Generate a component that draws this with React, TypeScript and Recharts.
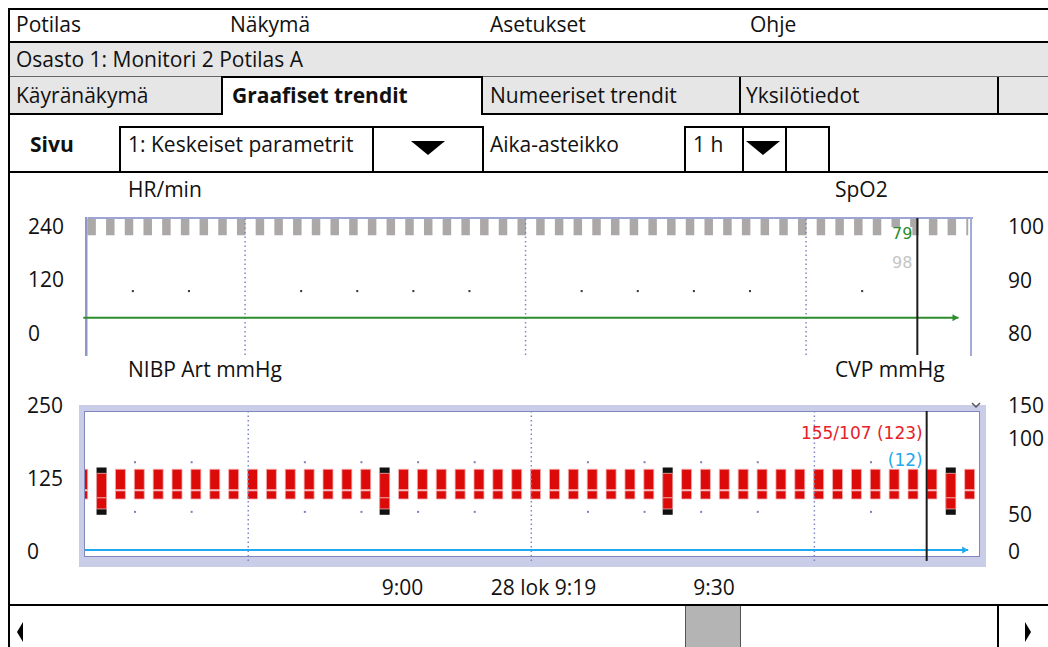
import React from 'react';
import { Bar, ComposedChart, Line, ReferenceLine, Scatter, XAxis, YAxis } from 'recharts';

const uiFont = "'Open Sans', 'Noto Sans', sans-serif";
const valueFont = "'DejaVu Sans', Verdana, sans-serif";

// shared time axis (trend slots, 1 h window)
const timeDomain: [number, number] = [0.1, 47.42];
const gridTimes = [8.75, 23.75, 38.75];
const markTimes = [2.75, 5.75, 11.75, 14.75, 17.75, 20.75, 26.75, 29.75, 32.75, 35.75, 41.75];
const cursorTime = 44.7;
const timeTicks = [16.93, 24.4, 33.43];
const timeLabels = ['9:00', '28 lok 9:19', '9:30'];

// HR / SpO2 panel
const hrTicks = [0, 120, 240];
const spo2Ticks = [80, 90, 100];
const spo2Times = [
  0.55, 1.55, 2.55, 3.55, 4.55, 5.55, 6.55, 7.55, 8.55, 9.55, 10.55, 11.55, 12.55, 13.55, 14.55, 15.55,
  16.55, 17.55, 18.55, 19.55, 20.55, 21.55, 22.55, 23.55, 24.55, 25.55, 26.55, 27.55, 28.55, 29.55, 30.55, 31.55,
  32.55, 33.55, 34.55, 35.55, 36.55, 37.55, 38.55, 39.55, 40.55, 41.55, 42.55, 43.55, 44.55, 45.55, 46.55, 47.55
];
const spo2High = [
  101.3, 101.3, 101.3, 101.3, 101.3, 101.3, 101.3, 101.3, 101.3, 101.3, 101.3, 101.3, 101.3, 101.3, 101.3, 101.3,
  101.3, 101.3, 101.3, 101.3, 101.3, 101.3, 101.3, 101.3, 101.3, 101.3, 101.3, 101.3, 101.3, 101.3, 101.3, 101.3,
  101.3, 101.3, 101.3, 101.3, 101.3, 101.3, 101.3, 101.3, 101.3, 101.3, 101.3, 101.3, 101.3, 101.3, 101.3, 101.3
];
const spo2Low = [
  98.3, 98.3, 98.3, 98.3, 98.3, 98.3, 98.3, 98.3, 98.3, 98.3, 98.3, 98.3, 98.3, 98.3, 98.3, 98.3,
  98.3, 98.3, 98.3, 98.3, 98.3, 98.3, 98.3, 98.3, 98.3, 98.3, 98.3, 98.3, 98.3, 98.3, 98.3, 98.3,
  98.3, 98.3, 98.3, 98.3, 98.3, 98.3, 98.3, 98.3, 98.3, 98.3, 98.3, 98.3, 98.3, 98.3, 98.3, 98.3
];
const hrMarkValues = [94, 94, 94, 94, 94, 94, 94, 94, 94, 94, 94];
const hrLineTimes = [0, 46.9];
const hrLineValues = [34, 34];
const hrReadout = '79';
const spo2Readout = '98';

// NIBP / CVP panel
const mmhgTicks = [0, 125, 250];
const cvpTickValues = [0, 38, 116, 150];
const cvpTickLabels = ['0', '50', '100', '150'];
const slotTimes = [
  0, 1, 2, 3, 4, 5, 6, 7, 8, 9, 10, 11, 12, 13, 14, 15,
  16, 17, 18, 19, 20, 21, 22, 23, 24, 25, 26, 27, 28, 29, 30, 31,
  32, 33, 34, 35, 36, 37, 38, 39, 40, 41, 42, 43, 44, 45, 46, 47
];
const nibpSys = [
  140, 133, 140, 140, 140, 140, 140, 140, 140, 140, 140, 140, 140, 140, 140, 140,
  133, 140, 140, 140, 140, 140, 140, 140, 140, 140, 140, 140, 140, 140, 140, 133,
  140, 140, 140, 140, 140, 140, 140, 140, 140, 140, 140, 140, 140, 140, 133, 140
];
const nibpMapHigh = [
  105, 91, 105, 105, 105, 105, 105, 105, 105, 105, 105, 105, 105, 105, 105, 105,
  91, 105, 105, 105, 105, 105, 105, 105, 105, 105, 105, 105, 105, 105, 105, 91,
  105, 105, 105, 105, 105, 105, 105, 105, 105, 105, 105, 105, 105, 105, 91, 105
];
const nibpMapLow = [
  103, 91, 103, 103, 103, 103, 103, 103, 103, 103, 103, 103, 103, 103, 103, 103,
  91, 103, 103, 103, 103, 103, 103, 103, 103, 103, 103, 103, 103, 103, 103, 91,
  103, 103, 103, 103, 103, 103, 103, 103, 103, 103, 103, 103, 103, 103, 91, 103
];
const nibpDia = [
  89, 72, 89, 89, 89, 89, 89, 89, 89, 89, 89, 89, 89, 89, 89, 89,
  72, 89, 89, 89, 89, 89, 89, 89, 89, 89, 89, 89, 89, 89, 89, 72,
  89, 89, 89, 89, 89, 89, 89, 89, 89, 89, 89, 89, 89, 89, 72, 89
];
const artTimes = [1, 16, 31, 46];
const artHigh = [143, 143, 143, 143];
const artLow = [62, 62, 62, 62];
const markHigh = [152, 152, 152, 152, 152, 152, 152, 152, 152, 152, 152];
const markLow = [67, 67, 67, 67, 67, 67, 67, 67, 67, 67, 67];
const cvpLineTimes = [0, 46.9];
const cvpLineValues = [1, 1];
const nibpReadout = '155/107 (123)';
const cvpReadout = '(12)';

const spo2Rows = spo2Times.map((t, i) => ({ t, spo2: [spo2Low[i], spo2High[i]] }));
const hrMarkRows = markTimes.map((t, i) => ({ t, v: hrMarkValues[i] }));
const hrLineRows = hrLineTimes.map((t, i) => ({ t, v: hrLineValues[i] }));

const nibpRows = slotTimes.map((t, i) => {
  const a = artTimes.indexOf(t);
  return {
    t,
    upper: [nibpMapHigh[i], nibpSys[i]],
    lower: [nibpDia[i], nibpMapLow[i]],
    art: a >= 0 ? [artLow[a], artHigh[a]] : null
  };
});
const nibpMarkRows = markTimes
  .map((t, i) => ({ t, v: markHigh[i] }))
  .concat(markTimes.map((t, i) => ({ t, v: markLow[i] })));
const cvpRows = cvpLineTimes.map((t, i) => ({ t, v: cvpLineValues[i] }));

const box = (left: number, top: number, width: number, height: number, extra: React.CSSProperties = {}): React.CSSProperties => ({
  position: 'absolute', left, top, width, height, boxSizing: 'border-box', ...extra
});

function Txt({ x, cy, size = 21, bold = false, children }: { x: number; cy: number; size?: number; bold?: boolean; children: React.ReactNode }) {
  return (
    <div style={{ position: 'absolute', left: x, top: cy - size * 0.7, lineHeight: `${size * 1.4}px`, fontSize: size, fontWeight: bold ? 700 : 400, whiteSpace: 'nowrap', color: '#111' }}>
      {children}
    </div>
  );
}

function DownArrow({ cx, top }: { cx: number; top: number }) {
  return (
    <svg style={box(cx - 18, top, 36, 16)} width={36} height={16}>
      <polygon points="1,1 35,1 18,15" fill="#000" />
    </svg>
  );
}

const axisTick = (x0: number, labelOf?: (v: number) => string) => (p: any) => (
  <text x={x0} y={p.y} textAnchor="start" dominantBaseline="central" fontSize={21} fontFamily={uiFont} fill="#111">
    {labelOf ? labelOf(p.payload.value) : p.payload.value}
  </text>
);

const arrowDot = (color: string, last: number) => (p: any) => {
  if (p.index !== last) return <g key={p.index} />;
  return <path key={p.index} d={`M${p.cx - 6},${p.cy - 3.5} L${p.cx},${p.cy} L${p.cx - 6},${p.cy + 3.5} Z`} fill={color} />;
};

const markShape = (color: string) => (p: any) => <rect x={p.cx - 1} y={p.cy - 1} width={2} height={2} fill={color} />;

function VitalsPanel() {
  return (
    <ComposedChart width={1048} height={183} data={spo2Rows} margin={{ top: 46, right: 0, bottom: 0, left: 0 }}>
      <XAxis xAxisId="t" dataKey="t" type="number" domain={timeDomain} allowDataOverflow hide />
      <XAxis xAxisId="m" dataKey="t" type="number" domain={timeDomain} allowDataOverflow hide />
      <YAxis yAxisId="hr" domain={[-49.3, 257.9]} ticks={hrTicks} width={83.3} allowDataOverflow axisLine={false} tickLine={false} tick={axisTick(28)} />
      <YAxis yAxisId="spo2" orientation="right" domain={[75.9, 101.5]} ticks={spo2Ticks} width={79.8} allowDataOverflow axisLine={false} tickLine={false} tick={axisTick(1008)} />
      {gridTimes.map((t) => (
        <ReferenceLine key={t} xAxisId="t" yAxisId="hr" x={t} stroke="#7f87c2" strokeWidth={1.5} strokeDasharray="1.5 3" />
      ))}
      <Bar xAxisId="t" yAxisId="spo2" dataKey="spo2" barSize={8.5} fill="#aca8a7" isAnimationActive={false} />
      <Scatter xAxisId="m" yAxisId="hr" data={hrMarkRows} dataKey="v" shape={markShape('#333')} isAnimationActive={false} />
      <Line xAxisId="m" yAxisId="hr" data={hrLineRows} dataKey="v" stroke="#2e8b2e" strokeWidth={2} dot={arrowDot('#2e8b2e', hrLineRows.length - 1)} activeDot={false} isAnimationActive={false} />
      <ReferenceLine
        xAxisId="t"
        yAxisId="hr"
        x={cursorTime}
        stroke="#1c1c1c"
        strokeWidth={2}
        label={(p: any) => {
          const vb = p.viewBox || p;
          return (
            <g>
              <rect x={vb.x - 28} y={vb.y + 9} width={23} height={13} fill="#fff" />
              <text x={vb.x - 5} y={vb.y + 15} textAnchor="end" dominantBaseline="central" fontSize={16} fontFamily={valueFont} fill="#2a8c2a">{hrReadout}</text>
              <text x={vb.x - 5} y={vb.y + 44.5} textAnchor="end" dominantBaseline="central" fontSize={16} fontFamily={valueFont} fill="#c4c4c4">{spo2Readout}</text>
            </g>
          );
        }}
      />
    </ComposedChart>
  );
}

function PressurePanel() {
  const top = 239.7;
  const bottom = -18.8;
  return (
    <ComposedChart width={1048} height={250} data={nibpRows} margin={{ top: 50, right: 0, bottom: 0, left: 0 }}>
      <XAxis
        xAxisId="t"
        dataKey="t"
        type="number"
        domain={timeDomain}
        allowDataOverflow
        ticks={timeTicks}
        interval={0}
        height={49}
        axisLine={false}
        tickLine={false}
        tick={(p: any) => (
          <text x={p.x} y={232} textAnchor="middle" dominantBaseline="central" fontSize={21} fontFamily={uiFont} fill="#111">
            {timeLabels[timeTicks.indexOf(p.payload.value)]}
          </text>
        )}
      />
      <XAxis xAxisId="lo" dataKey="t" type="number" domain={timeDomain} allowDataOverflow hide />
      <XAxis xAxisId="art" dataKey="t" type="number" domain={timeDomain} allowDataOverflow hide />
      <XAxis xAxisId="m" dataKey="t" type="number" domain={timeDomain} allowDataOverflow hide />
      <YAxis yAxisId="mmhg" domain={[-8.56, 250]} ticks={mmhgTicks} width={85} allowDataOverflow axisLine={false} tickLine={false} tick={axisTick(27)} />
      <YAxis
        yAxisId="cvp"
        orientation="right"
        domain={[-5.14, 150]}
        ticks={cvpTickValues}
        width={70}
        allowDataOverflow
        axisLine={false}
        tickLine={false}
        tick={axisTick(1008, (v) => cvpTickLabels[cvpTickValues.indexOf(v)])}
      />
      {gridTimes.map((t) => (
        <ReferenceLine
          key={t}
          xAxisId="t"
          yAxisId="mmhg"
          segment={[{ x: t, y: top }, { x: t, y: bottom }]}
          ifOverflow="visible"
          stroke="#7f87c2"
          strokeWidth={1.5}
          strokeDasharray="1.5 3"
        />
      ))}
      <Bar xAxisId="art" yAxisId="mmhg" dataKey="art" barSize={10} fill="#111" isAnimationActive={false} />
      <Bar xAxisId="t" yAxisId="mmhg" dataKey="upper" barSize={10} fill="#dd0a0a" stroke="#f4b4b4" strokeWidth={0.8} isAnimationActive={false} />
      <Bar xAxisId="lo" yAxisId="mmhg" dataKey="lower" barSize={10} fill="#dd0a0a" stroke="#f4b4b4" strokeWidth={0.8} isAnimationActive={false} />
      <Scatter xAxisId="m" yAxisId="mmhg" data={nibpMarkRows} dataKey="v" shape={markShape('#7a80bf')} isAnimationActive={false} />
      <Line xAxisId="m" yAxisId="cvp" data={cvpRows} dataKey="v" stroke="#1eaaf0" strokeWidth={2} dot={arrowDot('#1eaaf0', cvpRows.length - 1)} activeDot={false} isAnimationActive={false} />
      <ReferenceLine
        xAxisId="t"
        yAxisId="mmhg"
        segment={[{ x: cursorTime, y: top }, { x: cursorTime, y: -17 }]}
        ifOverflow="visible"
        stroke="#1c1c1c"
        strokeWidth={2}
        label={(p: any) => {
          const vb = p.viewBox || p;
          return (
            <g>
              <text x={vb.x - 4} y={vb.y + 22} textAnchor="end" dominantBaseline="central" fontSize={17} fontFamily={valueFont} fill="#e8202a">{nibpReadout}</text>
              <text x={vb.x - 4} y={vb.y + 49} textAnchor="end" dominantBaseline="central" fontSize={17} fontFamily={valueFont} fill="#22a8ee">{cvpReadout}</text>
            </g>
          );
        }}
      />
    </ComposedChart>
  );
}

export default function App() {
  const black = { background: '#000' };
  const gray = { background: '#e6e6e6' };
  return (
    <div style={{ position: 'absolute', left: 0, top: 0, width: 1048, height: 647, overflow: 'hidden', background: '#fff', fontFamily: uiFont }}>
      {/* outer frame + menu */}
      <div style={box(8, 8, 1050, 2, black)} />
      <div style={box(8, 8, 2, 650, black)} />
      <Txt x={16} cy={25}>Potilas</Txt>
      <Txt x={230} cy={25}>Näkymä</Txt>
      <Txt x={490} cy={25}>Asetukset</Txt>
      <Txt x={750} cy={25}>Ohje</Txt>
      <div style={box(8, 41, 1050, 2, black)} />
      <div style={box(10, 43, 1048, 33, gray)} />
      <Txt x={16} cy={60}>Osasto 1: Monitori 2 Potilas A</Txt>

      {/* tabs */}
      <div style={box(10, 76, 1048, 1, { background: '#666' })} />
      <div style={box(10, 77, 212, 36, gray)} />
      <div style={box(483, 77, 257, 36, gray)} />
      <div style={box(741, 77, 257, 36, gray)} />
      <div style={box(999, 77, 60, 36, gray)} />
      <div style={box(221, 76, 262, 2, black)} />
      <div style={box(221, 76, 2, 39, black)} />
      <div style={box(481, 76, 2, 39, black)} />
      <div style={box(739, 77, 2, 38, black)} />
      <div style={box(997, 77, 2, 38, black)} />
      <div style={box(8, 113, 214, 2, black)} />
      <div style={box(481, 113, 580, 2, black)} />
      <Txt x={16} cy={96}>Käyränäkymä</Txt>
      <Txt x={232} cy={96} bold>Graafiset trendit</Txt>
      <Txt x={490} cy={96}>Numeeriset trendit</Txt>
      <Txt x={746} cy={96}>Yksilötiedot</Txt>

      {/* page / time scale selectors */}
      <Txt x={30} cy={145} bold>Sivu</Txt>
      <div style={box(119, 126, 255, 47, { border: '2px solid #000' })} />
      <div style={box(372, 126, 112, 47, { border: '2px solid #000' })} />
      <Txt x={128} cy={145}>1: Keskeiset parametrit</Txt>
      <DownArrow cx={428} top={140} />
      <Txt x={490} cy={145}>Aika-asteikko</Txt>
      <div style={box(684, 126, 60, 47, { border: '2px solid #000' })} />
      <div style={box(742, 126, 45, 47, { border: '2px solid #000' })} />
      <div style={box(785, 126, 45, 47, { border: '2px solid #000' })} />
      <Txt x={693} cy={145}>1 h</Txt>
      <DownArrow cx={763} top={140} />
      <div style={box(8, 171, 1050, 2, black)} />

      {/* panel labels */}
      <Txt x={128} cy={190}>HR/min</Txt>
      <Txt x={835} cy={190}>SpO2</Txt>
      <Txt x={128} cy={370}>NIBP Art mmHg</Txt>
      <Txt x={835} cy={370}>CVP mmHg</Txt>

      {/* upper panel frame */}
      <div style={box(85, 217, 888, 2, { background: '#9ea5d3' })} />
      <div style={box(85, 217, 3, 139, { background: '#8f97c9', borderRight: '1px solid #c7cbe8' })} />
      <div style={box(970, 217, 2, 139, { background: '#a4abd8' })} />

      {/* lower panel frame */}
      <div style={box(79, 405, 907, 162, { background: '#c9cde8' })} />
      <div style={box(84, 411, 896, 146, { background: '#fff', border: '1px solid #8088bd' })} />
      <svg style={box(970, 402, 12, 8)} width={12} height={8}>
        <path d="M2,1 L6,5 L10,1" stroke="#555" strokeWidth={1.5} fill="none" />
      </svg>

      <div style={box(0, 172, 1048, 183)}>
        <VitalsPanel />
      </div>
      <div style={box(0, 355, 1048, 250)}>
        <PressurePanel />
      </div>

      {/* scroll bar */}
      <div style={box(8, 604, 1050, 2, black)} />
      <div style={box(685, 606, 56, 41, { background: '#b4b4b4', borderLeft: '1px solid #555', borderRight: '1px solid #555' })} />
      <div style={box(997, 606, 2, 41, black)} />
      <svg style={box(14, 620, 12, 24)} width={12} height={24}>
        <polygon points="3,12 9,2 9,22" fill="#000" />
      </svg>
      <svg style={box(1022, 620, 12, 24)} width={12} height={24}>
        <polygon points="9,12 3,2 3,22" fill="#000" />
      </svg>
    </div>
  );
}
